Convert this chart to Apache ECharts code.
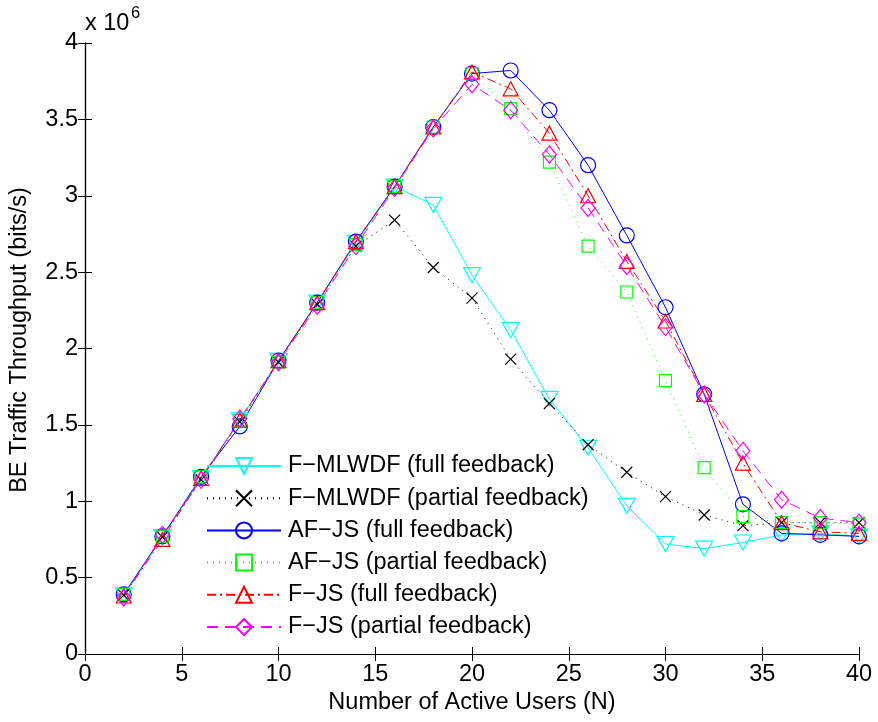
<!DOCTYPE html>
<html>
<head>
<meta charset="utf-8">
<script src="https://cdn.jsdelivr.net/npm/echarts@6/dist/echarts.min.js"></script>
<style>
  html, body { margin: 0; padding: 0; background: #fff; }
  #chart { width: 878px; height: 722px; }
</style>
</head>
<body>
<div id="chart"></div>
<script>
// Number of active users (x axis)
const users = [2, 4, 6, 8, 10, 12, 14, 16, 18, 20, 22, 24, 26, 28, 30, 32, 34, 36, 38, 40];

// BE traffic throughput, in units of 10^6 bits/s
const fmlwdfFull    = [0.385, 0.765, 1.15, 1.53, 1.92, 2.30, 2.69, 3.06, 2.94, 2.48, 2.12, 1.67, 1.35, 0.97, 0.72, 0.69, 0.73, 0.78, 0.79, 0.77];
const fmlwdfPartial = [0.385, 0.765, 1.14, 1.52, 1.91, 2.29, 2.67, 2.84, 2.53, 2.33, 1.93, 1.64, 1.37, 1.19, 1.03, 0.91, 0.84, 0.86, 0.86, 0.86];
const afjsFull      = [0.39, 0.77, 1.16, 1.49, 1.92, 2.30, 2.70, 3.06, 3.45, 3.80, 3.82, 3.56, 3.20, 2.74, 2.27, 1.70, 0.98, 0.79, 0.78, 0.77];
const afjsPartial   = [0.39, 0.77, 1.16, 1.53, 1.91, 2.30, 2.68, 3.06, 3.45, 3.80, 3.57, 3.22, 2.67, 2.37, 1.79, 1.22, 0.90, 0.86, 0.86, 0.85];
const fjsFull       = [0.38, 0.75, 1.15, 1.53, 1.92, 2.30, 2.70, 3.06, 3.45, 3.81, 3.70, 3.41, 3.00, 2.57, 2.18, 1.70, 1.25, 0.86, 0.80, 0.79];
const fjsPartial    = [0.37, 0.78, 1.14, 1.54, 1.91, 2.28, 2.67, 3.05, 3.44, 3.73, 3.56, 3.27, 2.92, 2.54, 2.14, 1.70, 1.33, 1.01, 0.89, 0.86];

const seriesNames = [
  'F\u2212MLWDF (full feedback)',
  'F\u2212MLWDF (partial feedback)',
  'AF\u2212JS (full feedback)',
  'AF\u2212JS (partial feedback)',
  'F\u2212JS (full feedback)',
  'F\u2212JS (partial feedback)'
];

const xTicks = { min: 0, max: 40, step: 5 };
const yTicks = { min: 0, max: 4, step: 0.5 };

const FONT = '"Liberation Sans", Arial, Helvetica, sans-serif';
const FS = 23.5;

const pair = vals => users.map((u, i) => [u, vals[i]]);

function lineSeries(name, vals, color, dash, symbol, size) {
  return {
    name: name,
    type: 'line',
    data: pair(vals),
    symbol: symbol,
    symbolSize: size,
    showSymbol: true,
    animation: false,
    lineStyle: { color: color, width: 1, type: dash },
    itemStyle: { color: 'rgba(255,255,255,0)', borderColor: color, borderWidth: 1.2 },
    emphasis: { disabled: true }
  };
}

// One legend block per entry so the row pitch can be set exactly
const LEGEND_TOP = 454;
const LEGEND_PITCH = 32.2;
const legends = seriesNames.map((name, i) => ({
  orient: 'vertical',
  left: 206,
  top: LEGEND_TOP + i * LEGEND_PITCH,
  itemWidth: 74,
  itemHeight: 20,
  padding: 0,
  selectedMode: false,
  textStyle: { color: '#000', fontSize: FS, fontFamily: FONT, padding: [0, 0, 0, 2] },
  data: [name]
}));

const chart = echarts.init(document.getElementById('chart'), null, { renderer: 'canvas' });

const hiddenAxisStyle = {
  axisLine: { show: true, lineStyle: { color: '#000', width: 1.2 } },
  axisTick: { show: true, inside: true, length: 7, lineStyle: { color: '#000', width: 1 } },
  axisLabel: { show: false },
  splitLine: { show: false }
};

chart.setOption({
  backgroundColor: '#fff',
  animation: false,
  textStyle: { fontFamily: FONT },
  grid: { left: 85, right: 19, top: 43, bottom: 68, containLabel: false },
  xAxis: [
    {
      type: 'value', min: xTicks.min, max: xTicks.max, interval: xTicks.step,
      axisLine: { show: true, onZero: false, lineStyle: { color: '#000', width: 1.2 } },
      axisTick: { show: true, inside: true, length: 7, lineStyle: { color: '#000', width: 1 } },
      axisLabel: { color: '#000', fontSize: FS, fontFamily: FONT, margin: 9 },
      splitLine: { show: false }
    },
    Object.assign({ type: 'value', position: 'top', min: xTicks.min, max: xTicks.max, interval: xTicks.step }, hiddenAxisStyle)
  ],
  yAxis: [
    {
      type: 'value', min: yTicks.min, max: yTicks.max, interval: yTicks.step,
      axisLine: { show: true, onZero: false, lineStyle: { color: '#000', width: 1.2 } },
      axisTick: { show: true, inside: true, length: 7, lineStyle: { color: '#000', width: 1 } },
      axisLabel: { color: '#000', fontSize: FS, fontFamily: FONT, margin: 7 },
      splitLine: { show: false }
    },
    Object.assign({ type: 'value', position: 'right', min: yTicks.min, max: yTicks.max, interval: yTicks.step }, hiddenAxisStyle)
  ],
  legend: legends,
  graphic: [
    { type: 'text', left: 85, top: 12, style: { text: 'x 10', fill: '#000', font: FS + 'px ' + FONT } },
    { type: 'text', left: 131, top: 5, style: { text: '6', fill: '#000', font: '16.5px ' + FONT } },
    {
      type: 'text', x: 472, y: 703,
      style: { text: 'Number of Active Users (N)', fill: '#000', font: FS + 'px ' + FONT, align: 'center', verticalAlign: 'middle' }
    },
    {
      type: 'text', x: 19.5, y: 340, rotation: Math.PI / 2,
      style: { text: 'BE Traffic Throughput (bits/s)', fill: '#000', font: FS + 'px ' + FONT, align: 'center', verticalAlign: 'middle' }
    }
  ],
  series: [
    lineSeries(seriesNames[0], fmlwdfFull, '#00FFFF', 'solid', 'path://M0,0L10,0L5,9Z', [17, 15]),
    lineSeries(seriesNames[1], fmlwdfPartial, '#000000', [1, 5], 'path://M0,0L10,10M10,0L0,10', 11),
    lineSeries(seriesNames[2], afjsFull, '#0000FF', 'solid', 'circle', 15),
    lineSeries(seriesNames[3], afjsPartial, '#00FF00', [1, 5], 'rect', 12),
    lineSeries(seriesNames[4], fjsFull, '#FF0000', [9, 4, 2, 4], 'triangle', [15, 14]),
    lineSeries(seriesNames[5], fjsPartial, '#FF00FF', [11, 7], 'diamond', [14, 17])
  ]
});
</script>
</body>
</html>
